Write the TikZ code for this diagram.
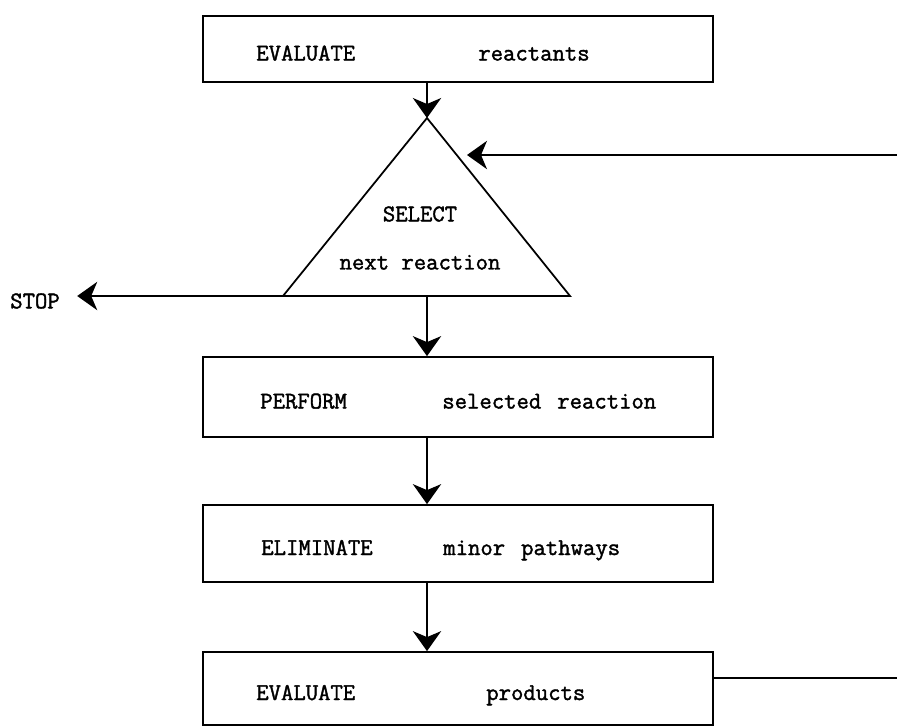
\documentclass[tikz,border=0pt]{standalone}
\usepackage{fontspec}
\setmonofont{Latin Modern Mono}[AutoFakeBold=1.6]
\usetikzlibrary{arrows.meta,positioning,calc}
\newcommand{\twopart}[3]{\makebox[#3][l]{#1}#2}
\tikzset{
  box/.style={draw,line width=1.5pt,minimum width=15.3cm,text width=12.1cm,inner xsep=1.6cm,align=left,text height=0.69cm,text depth=0pt},
  ar/.style={-{Stealth[length=0.6cm,width=0.85cm,inset=0.18cm]},line width=1.5pt},
}

\begin{document}
\begin{tikzpicture}[x=0.03cm,y=-0.03cm,every node/.style={font=\ttfamily\bfseries\fontsize{20.5}{24}\selectfont}]
\useasboundingbox (0,0) rectangle (897,727);
\node[box,minimum height=1.98cm] (eval1) at (458,49) {\twopart{EVALUATE}{reactants}{6.66cm}};
% selection triangle
\coordinate (seltop) at (427,118);
\coordinate (selleft) at (283,296);
\coordinate (selright) at (570,296);
\draw[line width=1.5pt] (seltop) -- (selleft) -- (selright) -- cycle;
\node[align=center] (sel) at (420,238) {SELECT\\[0.6cm]next reaction};
\node (stop) at (35,301) {STOP};
\node[box,minimum height=2.4cm] (perf) at (458,397) {\twopart{\hspace*{0.12cm}PERFORM}{selected~~reaction}{5.58cm}};
\node[box,minimum height=2.31cm] (elim) at (458,543.5) {\twopart{\hspace*{0.15cm}ELIMINATE}{minor~~pathways}{5.61cm}};
\node[box,minimum height=2.19cm] (eval2) at (458,688.5) {\twopart{EVALUATE}{products}{6.9cm}};
% feedback loop ends
\coordinate (fbout) at (897,678);
\coordinate (fbin) at (897,155);
\coordinate (fbtip) at (467,155);
\draw[ar] (seltop |- eval1.south) -- (seltop);
\draw[ar] (fbin) -- (fbtip);
\draw[ar,shorten >=0.4cm] (selleft) -- (selleft -| stop.east);
\draw[ar] (selleft -| seltop) -- (seltop |- perf.north);
\draw[ar] (seltop |- perf.south) -- (seltop |- elim.north);
\draw[ar] (seltop |- elim.south) -- (seltop |- eval2.north);
\draw[line width=1.5pt] (eval2.east |- fbout) -- (fbout);
\end{tikzpicture}
\end{document}
